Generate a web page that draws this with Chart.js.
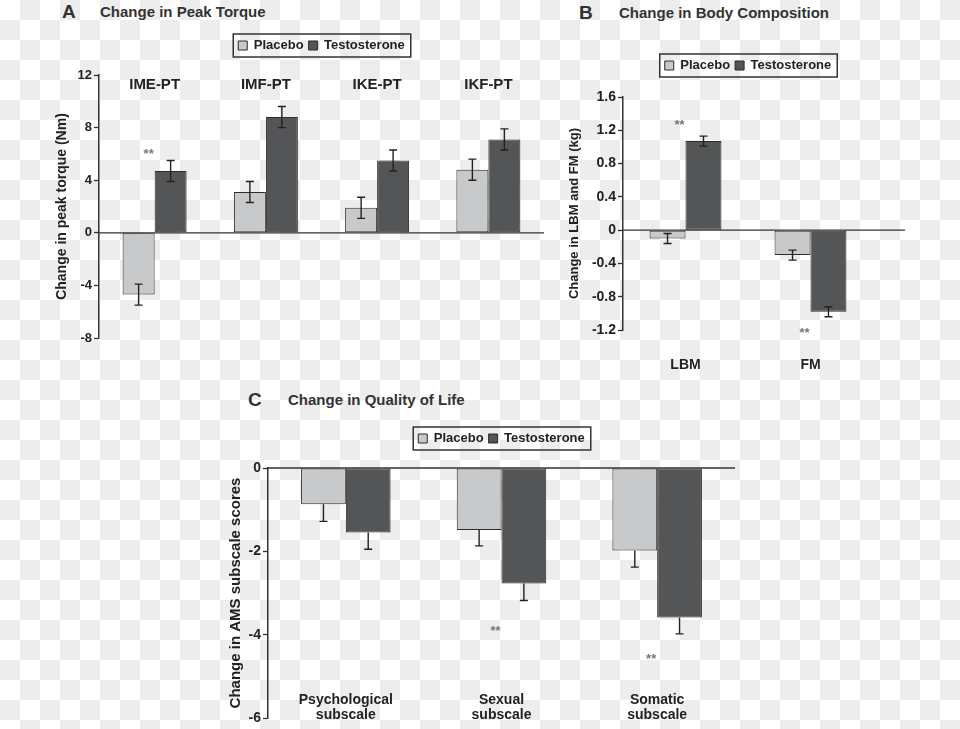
<!DOCTYPE html>
<html>
<head>
<meta charset="utf-8">
<script src="https://cdn.jsdelivr.net/npm/chart.js@4.4.0/dist/chart.umd.min.js"></script>
<style>
body {
    margin: 0;
    width: 960px;
    height: 729px;
    position: relative;
    overflow: hidden;
    background-color: #fff;
    background-image: conic-gradient(#ededed 25%, transparent 0 50%, #ededed 0 75%, transparent 0);
    background-size: 40px 40px;
    font-family: 'Liberation Sans', Arial, sans-serif;
    color: #333;
}
canvas { position: absolute; }
.letter { position: absolute; font-weight: bold; font-size: 19px; line-height: 20px; }
.title { position: absolute; font-weight: bold; font-size: 15px; line-height: 20px; }
</style>
</head>
<body>

<div class="letter" style="left:62px; top:2px;">A</div>
<div class="title" style="left:100px; top:2px;">Change in Peak Torque</div>
<div class="letter" style="left:579px; top:3px;">B</div>
<div class="title" style="left:619px; top:3px;">Change in Body Composition</div>
<div class="letter" style="left:248px; top:390px;">C</div>
<div class="title" style="left:288px; top:390px;">Change in Quality of Life</div>

<canvas id="chartA" width="580" height="365" style="left:0; top:0;"></canvas>
<canvas id="chartB" width="400" height="380" style="left:560px; top:0;"></canvas>
<canvas id="chartC" width="540" height="349" style="left:220px; top:380px;"></canvas>

<script>
// ---- A: peak torque ----
const labelsA = ["IME-PT", "IMF-PT", "IKE-PT", "IKF-PT"];
const placeboA = [-4.7, 3.1, 1.9, 4.8];
const testoA = [4.7, 8.8, 5.5, 7.1];
const placeboErrA = [0.8, 0.8, 0.8, 0.8];
const testoErrA = [0.8, 0.8, 0.8, 0.8];
const starsA = [6.2, null, null, null];
const yTicksA = [-8, -4, 0, 4, 8, 12];

// ---- B: body composition ----
const labelsB = ["LBM", "FM"];
const placeboB = [-0.1, -0.3];
const testoB = [1.07, -0.98];
const placeboErrB = [0.06, 0.06];
const testoErrB = [0.06, 0.06];
const starsB = [1.3, -1.21];
const yTicksB = [-1.2, -0.8, -0.4, 0, 0.4, 0.8, 1.2, 1.6];

// ---- C: quality of life ----
const labelsC = [["Psychological", "subscale"], ["Sexual", "subscale"], ["Somatic", "subscale"]];
const placeboC = [-0.87, -1.49, -1.98];
const testoC = [-1.55, -2.77, -3.59];
const placeboErrC = [0.41, 0.38, 0.4];
const testoErrC = [0.4, 0.41, 0.39];
const starsC = [null, -3.86, -4.53];
const yTicksC = [-6, -4, -2, 0];

const FONT = "'Liberation Sans', Arial, sans-serif";
const PLACEBO = "#c8c9cb";
const TESTO = "#545557";
const EDGE = "#2b2b2b";

// zero line, error bars, stars, category labels and the legend frame
const panelPlugin = {
    id: "panel",
    beforeInit(chart) {
        const gap = chart.options.plugins.panel.legendGap || 0;
        const fit = chart.legend.fit;
        chart.legend.fit = function () {
            fit.call(this);
            this.height += gap;
        };
    },
    afterDatasetsDraw(chart, args, opts) {
        const ctx = chart.ctx;
        const area = chart.chartArea;
        const x = chart.scales.x;
        const y = chart.scales.y;
        ctx.save();

        const y0 = y.getPixelForValue(0);
        ctx.strokeStyle = "#333";
        ctx.lineWidth = 1.3;
        ctx.beginPath();
        ctx.moveTo(area.left, y0);
        ctx.lineTo(area.right + (opts.zeroExtend || 0), y0);
        ctx.stroke();

        ctx.strokeStyle = "#222";
        ctx.lineWidth = 1.4;
        chart.data.datasets.forEach((ds, i) => {
            chart.getDatasetMeta(i).data.forEach((bar, j) => {
                const v = ds.data[j];
                const e = ds.errors[j];
                const outer = y.getPixelForValue(v < 0 ? v - e : v + e);
                const inner = opts.outwardOnly ? y.getPixelForValue(v) : y.getPixelForValue(v < 0 ? v + e : v - e);
                ctx.beginPath();
                ctx.moveTo(bar.x, inner);
                ctx.lineTo(bar.x, outer);
                ctx.moveTo(bar.x - 4, outer);
                ctx.lineTo(bar.x + 4, outer);
                if (!opts.outwardOnly) {
                    ctx.moveTo(bar.x - 4, inner);
                    ctx.lineTo(bar.x + 4, inner);
                }
                ctx.stroke();
            });
        });

        ctx.fillStyle = "#777";
        ctx.font = "bold 13px " + FONT;
        ctx.textAlign = "center";
        ctx.textBaseline = "middle";
        (opts.stars || []).forEach((s, i) => {
            if (s === null) return;
            ctx.fillText("**", x.getPixelForValue(i) - 6, y.getPixelForValue(s) + 3);
        });

        if (opts.catLabels) {
            ctx.fillStyle = "#222";
            ctx.font = "bold " + opts.catLabels.size + "px " + FONT;
            chart.data.labels.forEach((lab, i) => {
                const lines = Array.isArray(lab) ? lab : [lab];
                const cx = x.getPixelForValue(i);
                lines.forEach((ln, k) => {
                    const cy = opts.catLabels.top
                        ? area.top + opts.catLabels.dy + k * opts.catLabels.lh
                        : area.bottom - opts.catLabels.dy - (lines.length - 1 - k) * opts.catLabels.lh;
                    ctx.fillText(ln, cx, cy);
                });
            });
        }
        ctx.restore();
    },
    afterDraw(chart) {
        const hb = chart.legend.legendHitBoxes;
        if (!hb || !hb.length) return;
        const ctx = chart.ctx;
        const l = Math.min(...hb.map(h => h.left)) - 5;
        const r = Math.max(...hb.map(h => h.left + h.width)) + 6;
        const t = hb[0].top - 5;
        const b = hb[0].top + hb[0].height + 5;
        ctx.save();
        ctx.strokeStyle = "#333";
        ctx.lineWidth = 1.5;
        ctx.strokeRect(l, t, r - l, b - t);
        ctx.restore();
    }
};

function yAxis(ticks, width, title, titleSize, tickSize) {
    return {
        min: ticks[0],
        max: ticks[ticks.length - 1],
        afterBuildTicks: s => { s.ticks = ticks.map(v => ({value: v})); },
        afterFit: s => { s.width = width; },
        border: {display: true, color: "#333", width: 1.5},
        grid: {drawOnChartArea: false, drawTicks: true, tickLength: 5, tickColor: "#333", tickWidth: 1.3},
        ticks: {
            color: "#222",
            padding: 2,
            font: {family: FONT, size: tickSize, weight: "bold"},
            callback: v => String(v)
        },
        title: {
            display: true,
            text: title,
            color: "#222",
            font: {family: FONT, size: titleSize, weight: "bold"}
        }
    };
}

function bars(label, values, errors, color) {
    return {
        label: label,
        data: values,
        errors: errors,
        backgroundColor: color,
        borderColor: EDGE,
        borderWidth: 1,
        borderSkipped: false,
        categoryPercentage: 0.575,
        barPercentage: 1
    };
}

function legendOpts() {
    return {
        position: "top",
        fullSize: false,
        labels: {
            color: "#222",
            boxWidth: 9,
            boxHeight: 9,
            padding: 5,
            font: {family: FONT, size: 13, weight: "bold"}
        }
    };
}

new Chart(document.getElementById("chartA"), {
    type: "bar",
    data: {
        labels: labelsA,
        datasets: [
            bars("Placebo", placeboA, placeboErrA, PLACEBO),
            bars("Testosterone", testoA, testoErrA, TESTO)
        ]
    },
    plugins: [panelPlugin],
    options: {
        responsive: false,
        animation: false,
        layout: {padding: {left: 50, right: 36, top: 34, bottom: 27}},
        scales: {
            x: {display: false},
            y: yAxis(yTicksA, 49, "Change in peak torque (Nm)", 14, 13)
        },
        plugins: {
            legend: legendOpts(),
            tooltip: {enabled: false},
            panel: {legendGap: 13, stars: starsA, catLabels: {top: true, dy: 10, lh: 16, size: 15}}
        }
    }
});

new Chart(document.getElementById("chartB"), {
    type: "bar",
    data: {
        labels: labelsB,
        datasets: [
            bars("Placebo", placeboB, placeboErrB, PLACEBO),
            bars("Testosterone", testoB, testoErrB, TESTO)
        ]
    },
    plugins: [panelPlugin],
    options: {
        responsive: false,
        animation: false,
        layout: {padding: {left: 3, right: 87, top: 54, bottom: 10}},
        scales: {
            x: {
                afterFit: s => { s.height = 40; },
                grid: {display: false},
                border: {display: false},
                ticks: {color: "#222", padding: 19, font: {family: FONT, size: 14, weight: "bold"}}
            },
            y: yAxis(yTicksB, 60, "Change in LBM and FM (kg)", 13, 14)
        },
        plugins: {
            legend: legendOpts(),
            tooltip: {enabled: false},
            panel: {legendGap: 15, stars: starsB, zeroExtend: 32}
        }
    }
});

new Chart(document.getElementById("chartC"), {
    type: "bar",
    data: {
        labels: labelsC,
        datasets: [
            bars("Placebo", placeboC, placeboErrC, PLACEBO),
            bars("Testosterone", testoC, testoErrC, TESTO)
        ]
    },
    plugins: [panelPlugin],
    options: {
        responsive: false,
        animation: false,
        layout: {padding: {left: 3, right: 25, top: 47, bottom: 11}},
        scales: {
            x: {display: false},
            y: yAxis(yTicksC, 45, "Change in AMS subscale scores", 15, 14)
        },
        plugins: {
            legend: legendOpts(),
            tooltip: {enabled: false},
            panel: {legendGap: 13, stars: starsC, outwardOnly: true, catLabels: {top: false, dy: 3, lh: 14.5, size: 14}}
        }
    }
});
</script>
</body>
</html>
